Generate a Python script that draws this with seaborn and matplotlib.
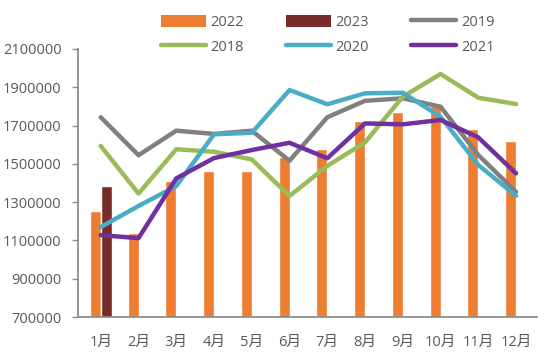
import numpy as np
import pandas as pd
import matplotlib
matplotlib.use("Agg")
import matplotlib.pyplot as plt
import seaborn as sns
from matplotlib.patches import Patch
from matplotlib.lines import Line2D

months = ["1月", "2月", "3月", "4月", "5月", "6月", "7月", "8月", "9月", "10月", "11月", "12月"]
bar_2022 = [1255000, 1137000, 1410000, 1462000, 1462000, 1535000, 1576000, 1723000, 1772000, 1800000, 1682000, 1619000]
bar_2023 = [1382000, np.nan, np.nan, np.nan, np.nan, np.nan, np.nan, np.nan, np.nan, np.nan, np.nan, np.nan]
line_2019 = [1743000, 1545000, 1673000, 1656000, 1673000, 1516000, 1743000, 1829000, 1842000, 1798000, 1546000, 1354000]
line_2018 = [1593000, 1345000, 1576000, 1563000, 1523000, 1332000, 1489000, 1612000, 1850000, 1969000, 1845000, 1812000]
line_2020 = [1170000, 1280000, 1384000, 1654000, 1662000, 1885000, 1811000, 1868000, 1871000, 1746000, 1494000, 1333000]
line_2021 = [1128000, 1112000, 1424000, 1530000, 1572000, 1610000, 1529000, 1711000, 1706000, 1729000, 1638000, 1450000]
yticks = [700000, 900000, 1100000, 1300000, 1500000, 1700000, 1900000, 2100000]

colors = {"2022": "#ED7D31", "2023": "#772C2A", "2019": "#808080",
          "2018": "#9BBB59", "2020": "#4BACC6", "2021": "#7030A0"}

sns.set_style("white")
plt.rcParams["font.family"] = ["Open Sans", "Noto Sans CJK SC", "DejaVu Sans"]

bars = pd.DataFrame({
    "month": months * 2,
    "year": ["2022"] * 12 + ["2023"] * 12,
    "value": bar_2022 + bar_2023,
})
lines = pd.DataFrame({
    "pos": list(range(len(months))) * 4,
    "year": ["2019"] * 12 + ["2018"] * 12 + ["2020"] * 12 + ["2021"] * 12,
    "value": line_2019 + line_2018 + line_2020 + line_2021,
})

fig = plt.figure(figsize=(5.5, 3.62), dpi=100)
ax = fig.add_axes([0.142, 0.124, 0.834, 0.741])

sns.barplot(data=bars, x="month", y="value", hue="year", order=months,
            hue_order=["2022", "2023"], palette=colors, width=0.58,
            dodge=True, gap=0, errorbar=None, legend=False, ax=ax,
            saturation=1, zorder=2)
sns.lineplot(data=lines, x="pos", y="value", hue="year",
             hue_order=["2019", "2018", "2020", "2021"], palette=colors,
             linewidth=3.2, legend=False, ax=ax, zorder=3)

ax.set_xlim(-0.6, 11.55)
ax.set_ylim(700000, 2100000)
ax.set_yticks(yticks)
ax.set_yticklabels([str(v) for v in yticks])
ax.set_xticks(range(len(months)))
ax.set_xticklabels(months)
ax.set_xlabel("")
ax.set_ylabel("")

for s in ["top", "right"]:
    ax.spines[s].set_visible(False)
for s in ["left", "bottom"]:
    ax.spines[s].set_color("#8C8C8C")
    ax.spines[s].set_linewidth(1.3)
ax.tick_params(axis="y", which="both", left=True, length=4, width=1.0,
               color="#8C8C8C", labelsize=10.5, labelcolor="#595959", pad=8)
ax.tick_params(axis="x", bottom=False, labelsize=10.5, labelcolor="#595959", pad=9)

order = ["2022", "2018", "2023", "2020", "2019", "2021"]
handles = []
for y in order:
    if y in ("2022", "2023"):
        handles.append(Patch(facecolor=colors[y], edgecolor="none"))
    else:
        handles.append(Line2D([0], [0], color=colors[y], lw=3.2, solid_capstyle="round"))
leg = fig.legend(handles, order, loc="upper left", bbox_to_anchor=(0.268, 0.995),
                 ncol=3, frameon=False, handlelength=3.1, handleheight=0.9,
                 handletextpad=0.3, columnspacing=2.9, labelspacing=0.65,
                 fontsize=10.5)
for t in leg.get_texts():
    t.set_color("#595959")

fig.savefig("out.png", dpi=100)
